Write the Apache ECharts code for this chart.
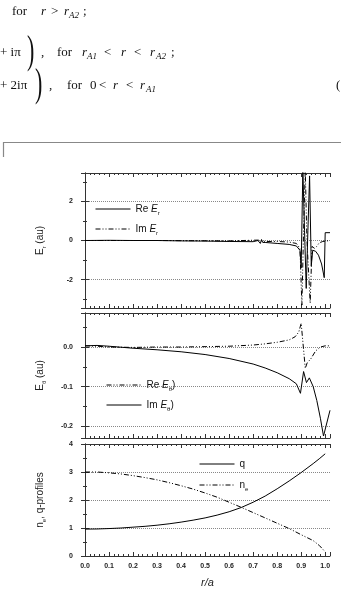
<!DOCTYPE html>
<html>
<head>
<meta charset="utf-8">
<script src="https://cdn.jsdelivr.net/npm/echarts@6/dist/echarts.min.js"></script>
<style>
html, body { margin: 0; padding: 0; background: #fff; }
#chart { width: 341px; height: 593px; }
</style>
</head>
<body>
<div id="chart"></div>
<script>
// values (x is r/a)
var reErR = [0, 0.1, 0.2, 0.3, 0.4, 0.5, 0.6, 0.7, 0.72, 0.725, 0.73, 0.735, 0.74, 0.75, 0.8, 0.85, 0.88, 0.895, 0.9, 0.907, 0.914, 0.921, 0.928, 0.935, 0.942, 0.948, 0.96, 0.972, 0.985, 0.996, 1.0, 1.02];
var reEr  = [0, 0.01, 0, 0, -0.02, -0.03, -0.05, -0.06, 0.0, 0.1, -0.15, 0.05, -0.1, -0.1, -0.15, -0.2, -0.28, -0.5, -1.4, 3.6, 0.5, -2.45, 0.5, 3.3, -1.3, -0.5, -0.55, -0.75, -1.2, -1.9, 0.4, 0.4];
var imErR = [0, 0.3, 0.6, 0.72, 0.75, 0.8, 0.85, 0.88, 0.895, 0.903, 0.91, 0.917, 0.924, 0.9375, 0.945, 0.955, 0.965, 0.975, 0.99, 1.02];
var imEr  = [0, 0, -0.02, 0.02, -0.05, -0.05, -0.08, -0.15, -0.4, -3.3, 0.5, 3.6, 0.0, -3.2, -0.3, -0.4, -0.3, -0.12, -0.05, 0];

var reEthR = [0, 0.05, 0.1, 0.2, 0.3, 0.4, 0.5, 0.6, 0.7, 0.75, 0.8, 0.85, 0.875, 0.89, 0.9, 0.905, 0.912, 0.917, 0.925, 0.94, 0.96, 0.98, 1.0, 1.02];
var reEth  = [0.003, 0.002, 0.0, -0.001, 0.0, 0.0, 0.001, 0.002, 0.005, 0.008, 0.012, 0.018, 0.026, 0.038, 0.06, 0.065, -0.02, -0.054, -0.04, -0.03, -0.01, 0.0, 0.003, 0.003];
var imEthR = [0, 0.05, 0.1, 0.2, 0.3, 0.4, 0.5, 0.6, 0.7, 0.75, 0.8, 0.85, 0.88, 0.897, 0.91, 0.922, 0.934, 0.95, 0.965, 0.98, 0.993, 1.02];
var imEth  = [0.003, 0.004, 0.002, -0.003, -0.007, -0.012, -0.019, -0.029, -0.043, -0.053, -0.065, -0.08, -0.093, -0.117, -0.062, -0.09, -0.078, -0.1, -0.135, -0.18, -0.225, -0.16];

var profR = [0, 0.05, 0.1, 0.15, 0.2, 0.25, 0.3, 0.35, 0.4, 0.45, 0.5, 0.55, 0.6, 0.65, 0.7, 0.75, 0.8, 0.85, 0.9, 0.95, 0.975, 1.0];
var qProf = [0.96, 0.965, 0.98, 1.0, 1.03, 1.06, 1.10, 1.15, 1.21, 1.28, 1.36, 1.46, 1.58, 1.73, 1.92, 2.14, 2.40, 2.68, 2.98, 3.30, 3.47, 3.65];
var neProf = [3.0, 3.0, 2.97, 2.93, 2.87, 2.80, 2.72, 2.62, 2.51, 2.39, 2.25, 2.10, 1.92, 1.74, 1.55, 1.36, 1.17, 0.98, 0.76, 0.55, 0.38, 0.15];

function pts(xs, ys) {
    return xs.map(function (x, i) { return [x, ys[i]]; });
}

var dashDot = [5, 2, 1, 2, 1, 2];
var sans = 'Liberation Sans';
var serif = 'Liberation Serif';

var rich = {
    it: { fontStyle: 'italic', fontSize: 10, lineHeight: 14, fontFamily: sans, color: '#111' },
    sub: { fontSize: 6, lineHeight: 14, verticalAlign: 'bottom', fontFamily: sans, color: '#111' }
};
var legendNames = {
    'Re Er': 'Re {it|E}{sub|r}',
    'Im Er': 'Im {it|E}{sub|r}',
    'Re Eθ': 'Re {it|E}{sub|θ})',
    'Im Eθ': 'Im {it|E}{sub|θ})',
    'q': 'q',
    'ne': 'n{sub|e}'
};

function xAx(grid, top, showLabels) {
    return {
        type: 'value', gridIndex: grid, min: 0, max: 1.02, interval: 0.1,
        position: top ? 'top' : 'bottom',
        axisLine: { onZero: false, lineStyle: { color: '#333', width: 1 } },
        axisTick: { inside: true, length: 4, lineStyle: { color: '#333' } },
        minorTick: { show: true, splitNumber: 5, length: 2, lineStyle: { color: '#333' } },
        axisLabel: {
            show: !!showLabels, showMaxLabel: false, margin: 7,
            fontSize: 7, fontWeight: 'bold', fontFamily: sans, color: '#222',
            formatter: function (v) { return v.toFixed(1); }
        },
        splitLine: { show: false },
        name: showLabels ? '{i|r/a}' : '',
        nameLocation: 'middle', nameGap: 21,
        nameTextStyle: { rich: { i: { fontStyle: 'italic', fontSize: 11, fontFamily: sans, color: '#222' } } }
    };
}

function yAx(grid, right, min, max, split, fmt, name, ends) {
    return {
        type: 'value', gridIndex: grid, min: min, max: max, splitNumber: split,
        position: right ? 'right' : 'left',
        axisLine: { show: true, lineStyle: { color: '#333', width: 1 } },
        axisTick: { inside: true, length: 4, lineStyle: { color: '#333' } },
        minorTick: { show: true, splitNumber: 2, length: 2, lineStyle: { color: '#333' } },
        axisLabel: {
            show: !right, showMinLabel: !!ends, showMaxLabel: !!ends, margin: 12,
            fontSize: 7, fontWeight: 'bold', fontFamily: sans, color: '#222',
            formatter: fmt
        },
        splitLine: { show: !right, lineStyle: { color: '#888', type: 'dotted', width: 1 } },
        name: right ? '' : name,
        nameLocation: 'middle', nameGap: 38, nameRotate: 90,
        nameTextStyle: {
            fontSize: 10, fontFamily: sans, color: '#222', lineHeight: 14,
            rich: {
                sub: { fontSize: 6, lineHeight: 14, verticalAlign: 'bottom', fontFamily: sans, color: '#222' }
            }
        }
    };
}

function lineSeries(name, xi, yi, data, dashed) {
    return {
        name: name, type: 'line', xAxisIndex: xi, yAxisIndex: yi,
        data: data, symbol: 'none', animation: false,
        lineStyle: { color: '#000', width: 1, type: dashed ? dashDot : 'solid' },
        itemStyle: { color: '#000' }
    };
}

function legend(names, left, top, gap) {
    return {
        data: names, left: left, top: top, orient: 'vertical',
        itemWidth: 35, itemHeight: 12, itemGap: gap,
        itemStyle: { opacity: 0 },
        lineStyle: { width: 1 },
        formatter: function (n) { return legendNames[n]; },
        textStyle: { fontSize: 10, fontFamily: sans, color: '#111', lineHeight: 14, rich: rich }
    };
}

// math text above the figure
function txt(x, y, s, o) {
    o = o || {};
    return {
        type: 'text', x: x, y: y, silent: true,
        scaleX: o.sx || 1,
        style: {
            text: s,
            font: (o.italic ? 'italic ' : '') + (o.size || 13) + 'px "' + serif + '"',
            fill: '#111', textVerticalAlign: 'middle'
        }
    };
}
var mathText = [
    txt(12, 12, 'for'), txt(41, 12, 'r', { italic: 1 }), txt(51, 12, '>'),
    txt(64, 12, 'r', { italic: 1 }), txt(69, 15.5, 'A2', { italic: 1, size: 9 }), txt(83, 12, ';'),

    txt(0, 53, '+ iπ'), txt(27, 52, ')', { size: 40, sx: 0.55 }), txt(41, 53, ','), txt(57, 53, 'for'),
    txt(82, 53, 'r', { italic: 1 }), txt(87, 56.5, 'A1', { italic: 1, size: 9 }), txt(104, 53, '<'),
    txt(121, 53, 'r', { italic: 1 }), txt(134, 53, '<'),
    txt(150, 53, 'r', { italic: 1 }), txt(156, 56.5, 'A2', { italic: 1, size: 9 }), txt(171, 53, ';'),

    txt(0, 86, '+ 2iπ'), txt(35, 85, ')', { size: 40, sx: 0.55 }), txt(49, 86, ','), txt(67, 86, 'for'),
    txt(90, 86, '0'), txt(99, 86, '<'), txt(113, 86, 'r', { italic: 1 }), txt(126, 86, '<'),
    txt(140, 86, 'r', { italic: 1 }), txt(146, 89.5, 'A1', { italic: 1, size: 9 }),
    txt(336, 86, '('),

    {
        type: 'polyline', silent: true,
        shape: { points: [[3.5, 157], [3.5, 142.5], [341, 142.5]] },
        style: { stroke: '#888', lineWidth: 1.2, fill: null }
    }
];

var chart = echarts.init(document.getElementById('chart'));
chart.setOption({
    animation: false,
    grid: [
        { left: 85, right: 11, top: 173, height: 135 },
        { left: 85, right: 11, top: 313, height: 125 },
        { left: 85, right: 11, top: 444, height: 112 }
    ],
    xAxis: [xAx(0, false, false), xAx(0, true), xAx(1, false, false), xAx(1, true), xAx(2, false, true), xAx(2, true)],
    yAxis: [
        yAx(0, false, -3.45, 3.45, 3, function (v) { return String(v); }, 'E{sub|r} (au)'),
        yAx(0, true, -3.45, 3.45, 3),
        yAx(1, false, -0.23, 0.086, 3, function (v) { return v.toFixed(1); }, 'E{sub|θ} (au)'),
        yAx(1, true, -0.23, 0.086, 3),
        yAx(2, false, 0, 4, 4, function (v) { return String(v); }, 'n{sub|e}, q-profiles', true),
        yAx(2, true, 0, 4, 4)
    ],
    legend: [
        legend(['Re Er', 'Im Er'], 90, 197, 6),
        legend(['Re Eθ', 'Im Eθ'], 101, 373, 6),
        legend(['q', 'ne'], 194, 452, 7)
    ],
    graphic: mathText,
    series: [
        lineSeries('Re Er', 0, 0, pts(reErR, reEr), false),
        lineSeries('Im Er', 0, 0, pts(imErR, imEr), true),
        lineSeries('Re Eθ', 2, 2, pts(reEthR, reEth), true),
        lineSeries('Im Eθ', 2, 2, pts(imEthR, imEth), false),
        lineSeries('q', 4, 4, pts(profR, qProf), false),
        lineSeries('ne', 4, 4, pts(profR, neProf), true)
    ]
});
</script>
</body>
</html>
